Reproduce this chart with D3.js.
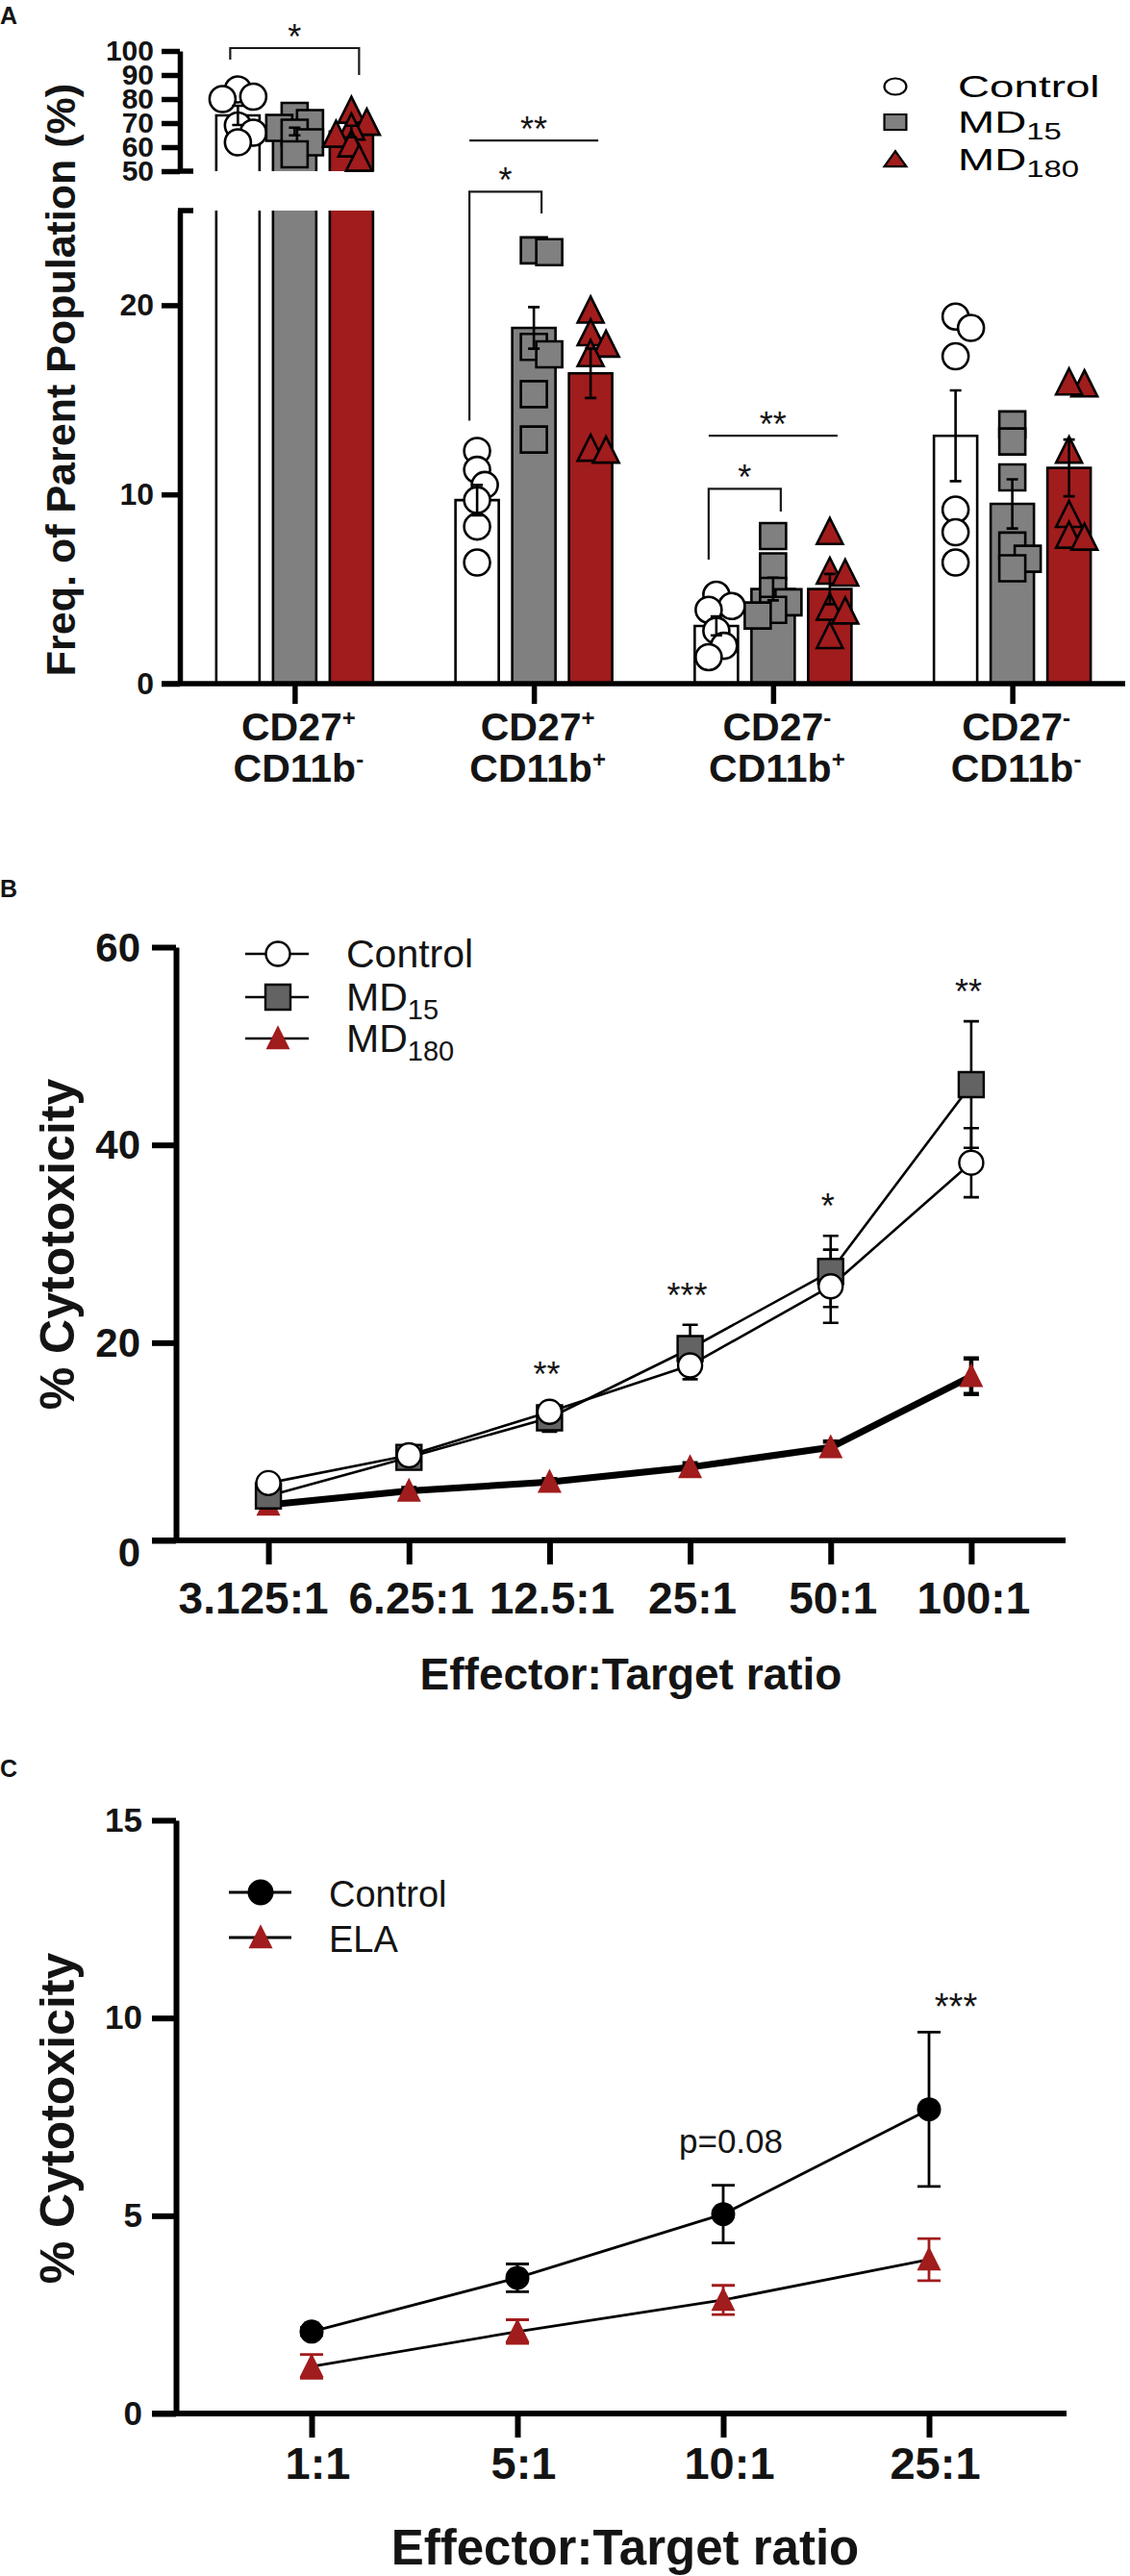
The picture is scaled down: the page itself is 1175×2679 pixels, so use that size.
<!DOCTYPE html>
<html><head><meta charset="utf-8">
<script src="https://cdn.jsdelivr.net/npm/d3@7"></script>
<style>
body{margin:0;background:#fff;}
svg{display:block;font-family:"Liberation Sans",Arial,Helvetica,sans-serif;}
</style></head><body>
<svg id="fig" width="1175" height="2679"></svg>
<script>
// ================= DATA =================
// Panel A
const aCategories   = ["CD27+CD11b-","CD27+CD11b+","CD27-CD11b+","CD27-CD11b-"];
const aCatTop       = ["CD27","CD27","CD27","CD27"];
const aCatTopSup    = ["+","+","-","-"];
const aCatBottom    = ["CD11b","CD11b","CD11b","CD11b"];
const aCatBottomSup = ["-","+","+","-"];
const aGroups       = ["Control","MD15","MD180"];
const aControlMean  = [73.2, 9.7, 3.05, 13.1];
const aMD15Mean     = [66.5, 18.8, 5.0, 9.5];
const aMD180Mean    = [66.5, 16.4, 5.0, 11.4];
const aControlSem   = [4.0, 0.8, 0.5, 2.4];
const aMD15Sem      = [1.6, 1.1, 0.6, 1.3];
const aMD180Sem     = [2.4, 1.3, 0.8, 1.5];
const aControlPts   = [[84,81,80,69,66,62],[12.3,11.3,10.5,9.7,8.3,6.4],[4.7,4.1,3.9,2.8,2.0,1.4],[19.4,18.8,17.3,9.2,8.0,6.4]];
const aMD15Pts      = [[73,70,68,66,62,57],[22.9,22.8,17.8,17.4,15.3,12.9],[7.8,6.2,4.9,4.3,3.9,3.6],[13.7,12.8,10.9,7.3,6.6,6.1]];
const aMD180Pts     = [[75,70,68,65,61,55],[19.7,18.5,17.9,17.4,12.4,12.3],[8.0,5.9,5.8,4.0,3.8,2.5],[15.8,15.9,12.3,8.9,7.8,7.7]];
const aLowTicks     = [0,10,20];
const aHighTicks    = [50,60,70,80,90,100];
// significance (category index, from group, to group, level, left leg end, right leg end, label)
const aSigCat   = [0, 1, 1, 2, 2];
const aSigFrom  = ["Control","Control","Control","Control","Control"];
const aSigTo    = ["MD180","MD15","MD180","MD15","MD180"];
const aSigLevel = [101.2, 26.0, 28.7, 10.3, 13.1];
const aSigLeft  = [96.4, 13.9, null, 6.55, null];
const aSigRight = [90.0, 24.85, null, 9.1, null];
const aSigText  = ["*","*","**","*","**"];

// Panel B
const bRatios     = ["3.125:1","6.25:1","12.5:1","25:1","50:1","100:1"];
const bControl    = [5.8, 8.6, 13.0, 17.7, 25.7, 38.2];
const bControlErr = [0.5, 0.6, 0.8, 1.4, 3.7, 3.5];
const bMD15       = [4.5, 8.4, 12.4, 19.4, 27.2, 46.1];
const bMD15Err    = [0.5, 0.6, 1.4, 2.4, 3.6, 6.4];
const bMD180      = [3.6, 5.0, 5.9, 7.4, 9.4, 16.6];
const bMD180Err   = [0.3, 0.3, 0.3, 0.4, 0.6, 1.8];
const bSig        = ["", "", "**", "***", "*", "**"];
const bTicks      = [0, 20, 40, 60];

// Panel C
const cRatios     = ["1:1","5:1","10:1","25:1"];
const cControl    = [2.07, 3.43, 5.04, 7.69];
const cControlErr = [0.1, 0.35, 0.73, 1.95];
const cELA        = [1.19, 2.07, 2.87, 3.89];
const cELAErr     = [0.3, 0.3, 0.37, 0.53];
const cNote       = ["", "", "p=0.08", "***"];
const cTicks      = [0, 5, 10, 15];

// ================= STYLE =================
const RED = "#a11c1c", GREYA = "#808080", GREYB = "#636363", INK = "#141414";
const svg = d3.select("#fig");

function markerPath(shape, s) {
  if (shape === "square") return `M${-s/2},${-s/2}H${s/2}V${s/2}H${-s/2}Z`;
  if (shape === "triangle") return `M0,${-s*0.55}L${s/2},${s*0.45}L${-s/2},${s*0.45}Z`;
  return d3.symbol(d3.symbolCircle, Math.PI*(s/2)*(s/2))();
}
function styleAxis(g, fontSize, width) {
  g.selectAll("path.domain").attr("stroke", "#000").attr("stroke-width", width);
  g.selectAll(".tick line").attr("stroke", "#000").attr("stroke-width", width);
  g.selectAll(".tick text").attr("fill", INK).attr("font-size", fontSize)
    .attr("font-weight", "bold").attr("font-family", '"Liberation Sans",Arial,sans-serif');
}

// ================= PANEL A =================
(function(){
  const g = svg.append("g");
  const xA = d3.scalePoint().domain(aCategories).range([182, 1177]).padding(0.5);
  const xG = d3.scalePoint().domain(aGroups).range([-59, 59]);
  const yLow = d3.scaleLinear().domain([0, 25]).range([711, 219]);
  const yHigh = d3.scaleLinear().domain([50, 100]).range([178, 53]);
  const yA = v => v > 30 ? yHigh(v) : yLow(v);
  const BW = 45, AX = 187;

  g.append("text").attr("x", 0).attr("y", 25).attr("font-size", 25).attr("font-weight", "bold").attr("fill", INK).text("A");

  const series = [
    {name:"Control", mean:aControlMean, sem:aControlSem, pts:aControlPts, fill:"#fff", shape:"circle"},
    {name:"MD15", mean:aMD15Mean, sem:aMD15Sem, pts:aMD15Pts, fill:GREYA, shape:"square"},
    {name:"MD180", mean:aMD180Mean, sem:aMD180Sem, pts:aMD180Pts, fill:RED, shape:"triangle"}
  ];

  // bars
  series.forEach(s => {
    aCategories.forEach((c, i) => {
      const cx = xA(c) + xG(s.name), x0 = cx - BW/2, m = s.mean[i];
      if (m <= 25) {
        g.append("rect").attr("x", x0).attr("y", yLow(m)).attr("width", BW).attr("height", yLow(0) - yLow(m)).attr("fill", s.fill);
        g.append("path").attr("d", `M${x0},${yLow(0)}V${yLow(m)}H${x0+BW}V${yLow(0)}`).attr("fill","none").attr("stroke","#000").attr("stroke-width",2.6);
      } else {
        g.append("rect").attr("x", x0).attr("y", yLow(25)).attr("width", BW).attr("height", yLow(0) - yLow(25)).attr("fill", s.fill);
        g.append("path").attr("d", `M${x0},${yLow(0)}V${yLow(25)}M${x0+BW},${yLow(25)}V${yLow(0)}`).attr("fill","none").attr("stroke","#000").attr("stroke-width",2.6);
        g.append("rect").attr("x", x0).attr("y", yHigh(m)).attr("width", BW).attr("height", yHigh(50) - yHigh(m)).attr("fill", s.fill);
        g.append("path").attr("d", `M${x0},${yHigh(50)}V${yHigh(m)}H${x0+BW}V${yHigh(50)}`).attr("fill","none").attr("stroke","#000").attr("stroke-width",2.6);
      }
    });
  });

  // points (deterministic dodge)
  function dodge(vals, minD, step) {
    const placed = [], offs = new Array(vals.length);
    const order = vals.map((v, i) => i).sort((a, b) => vals[b] - vals[a]);
    const cands = [0, step, -step, 2*step, -2*step];
    order.forEach((i, k) => {
      const y = yA(vals[i]);
      let c = cands.find(c => placed.every(p => Math.hypot(p.x - c, p.y - y) >= minD));
      if (c === undefined) c = cands[k % cands.length];
      offs[i] = c; placed.push({x: c, y});
    });
    return offs;
  }
  series.forEach(s => {
    aCategories.forEach((c, i) => {
      const cx = xA(c) + xG(s.name);
      const offs = dodge(s.pts[i], 16, 8);
      s.pts[i].forEach((v, j) => {
        g.append("path").attr("d", markerPath(s.shape, 27))
          .attr("transform", `translate(${cx + offs[j]},${yA(v)})`)
          .attr("fill", s.fill).attr("stroke", "#000").attr("stroke-width", 2.6);
      });
    });
  });

  // error bars
  series.forEach(s => {
    aCategories.forEach((c, i) => {
      const cx = xA(c) + xG(s.name), m = s.mean[i], e = s.sem[i];
      const y1 = yA(m + e), y2 = yA(m - e);
      g.append("path").attr("d", `M${cx},${y2}V${y1}M${cx-6},${y1}H${cx+6}M${cx-6},${y2}H${cx+6}`)
        .attr("stroke", "#000").attr("stroke-width", 2.6).attr("fill", "none");
    });
  });

  // axes
  const axLow = g.append("g").attr("transform", `translate(${AX},0)`)
    .call(d3.axisLeft(yLow).tickValues(aLowTicks).tickSize(19).tickSizeOuter(0).tickPadding(8));
  styleAxis(axLow, 32, 5.5);
  const axHigh = g.append("g").attr("transform", `translate(${AX},0)`)
    .call(d3.axisLeft(yHigh).tickValues(aHighTicks).tickSize(19).tickSizeOuter(0).tickPadding(8));
  styleAxis(axHigh, 30, 5.5);
  // break caps
  g.append("line").attr("x1", AX).attr("x2", AX + 14).attr("y1", yHigh(50)).attr("y2", yHigh(50)).attr("stroke", "#000").attr("stroke-width", 5.5);
  g.append("line").attr("x1", AX - 2).attr("x2", AX + 14).attr("y1", yLow(25)).attr("y2", yLow(25)).attr("stroke", "#000").attr("stroke-width", 5.5);
  // x axis line
  g.append("line").attr("x1", AX - 19).attr("x2", 1170).attr("y1", yLow(0)).attr("y2", yLow(0)).attr("stroke", "#000").attr("stroke-width", 5.5);
  const axX = g.append("g").attr("transform", `translate(0,${yLow(0)})`)
    .call(d3.axisBottom(xA).tickSize(21).tickFormat(""));
  axX.select("path.domain").remove();
  axX.selectAll(".tick line").attr("stroke", "#000").attr("stroke-width", 5.5);

  // category labels
  aCategories.forEach((c, i) => {
    const t1 = g.append("text").attr("x", xA(c) + 4).attr("y", yLow(0) + 59).attr("text-anchor", "middle")
      .attr("font-size", 41).attr("font-weight", "bold").attr("fill", INK);
    t1.append("tspan").text(aCatTop[i]);
    t1.append("tspan").attr("font-size", 24).attr("dy", -15).text(aCatTopSup[i]);
    const t2 = g.append("text").attr("x", xA(c) + 4).attr("y", yLow(0) + 102).attr("text-anchor", "middle")
      .attr("font-size", 41).attr("font-weight", "bold").attr("fill", INK);
    t2.append("tspan").text(aCatBottom[i]);
    t2.append("tspan").attr("font-size", 24).attr("dy", -15).text(aCatBottomSup[i]);
  });

  // y label
  g.append("text").attr("transform", `translate(78,395) rotate(-90)`).attr("text-anchor", "middle")
    .attr("font-size", 43).attr("font-weight", "bold").attr("fill", INK).text("Freq. of Parent Population (%)");

  // significance
  aSigCat.forEach((ci, k) => {
    const c = aCategories[ci];
    const x1 = xA(c) + xG(aSigFrom[k]) - 8, x2 = xA(c) + xG(aSigTo[k]) + 8;
    const y = yA(aSigLevel[k]);
    let d = `M${x1},${y}H${x2}`;
    if (aSigLeft[k] !== null) d = `M${x1},${yA(aSigLeft[k])}V${y}H${x2}V${yA(aSigRight[k])}`;
    g.append("path").attr("d", d).attr("fill", "none").attr("stroke", "#1a1a1a").attr("stroke-width", 2.2);
    g.append("text").attr("x", (x1 + x2) / 2).attr("y", y + 1).attr("text-anchor", "middle")
      .attr("font-size", 36).attr("fill", INK).text(aSigText[k]);
  });

  // legend (horizontally stretched like the reference)
  const lg = g.append("g").attr("transform", "translate(931,0) scale(1.43,1)");
  const legY = [90, 127, 166];
  series.forEach((s, k) => {
    const shp = s.shape === "circle"
      ? lg.append("ellipse").attr("cx", 0).attr("cy", legY[k]).attr("rx", 8).attr("ry", 8.5)
      : lg.append("path").attr("d", markerPath(s.shape, 16)).attr("transform", `translate(0,${legY[k]})`);
    shp.attr("fill", s.fill).attr("stroke", "#000").attr("stroke-width", 2.2).attr("vector-effect", "non-scaling-stroke");
    const t = lg.append("text").attr("x", 45.5).attr("y", legY[k] + 11).attr("font-size", 32).attr("fill", "#000");
    if (s.name === "Control") t.text("Control");
    else {
      t.append("tspan").text("MD");
      t.append("tspan").attr("font-size", 23).attr("dy", 7).text(s.name.slice(2));
    }
  });
})();

// ================= PANEL B =================
(function(){
  const g = svg.append("g");
  const AX = 183;
  const xB = d3.scalePoint().domain(bRatios).range([206, 1083]).padding(0.5);
  const yB = d3.scaleLinear().domain([0, 60]).range([1602, 985]);

  g.append("text").attr("x", 0).attr("y", 933).attr("font-size", 25).attr("font-weight", "bold").attr("fill", INK).text("B");

  // axes
  g.append("line").attr("x1", 158).attr("x2", 1108).attr("y1", yB(0)).attr("y2", yB(0)).attr("stroke", "#000").attr("stroke-width", 6);
  const ay = g.append("g").attr("transform", `translate(${AX},0)`)
    .call(d3.axisLeft(yB).tickValues(bTicks).tickSize(25).tickSizeOuter(0).tickPadding(12));
  styleAxis(ay, 42, 6);
  ay.selectAll(".tick text").attr("dy", d => d === 0 ? "0.62em" : "0.34em");
  const ax = g.append("g").attr("transform", `translate(0,${yB(0)})`)
    .call(d3.axisBottom(xB).tickSize(25).tickSizeOuter(0));
  ax.select("path.domain").remove();
  styleAxis(ax, 46, 6);
  ax.selectAll(".tick text").attr("dy", null).attr("y", 76).attr("dx", (d, i) => i === 0 ? -16 : 2);

  g.append("text").attr("x", 656).attr("y", 1757).attr("text-anchor", "middle").attr("font-size", 46)
    .attr("font-weight", "bold").attr("fill", INK).text("Effector:Target ratio");
  g.append("text").attr("transform", "translate(77,1294) rotate(-90)").attr("text-anchor", "middle")
    .attr("font-size", 50).attr("font-weight", "bold").attr("fill", INK).text("% Cytotoxicity");

  const series = [
    {name:"MD180", vals:bMD180, err:bMD180Err, shape:"triangle", fill:RED, stroke:"none", lw:7, ew:4.5},
    {name:"MD15", vals:bMD15, err:bMD15Err, shape:"square", fill:GREYB, stroke:"#000", lw:2.6, ew:2.6},
    {name:"Control", vals:bControl, err:bControlErr, shape:"circle", fill:"#fff", stroke:"#000", lw:2.6, ew:2.6}
  ];
  const line = d3.line().x((d, i) => xB(bRatios[i])).y(d => yB(d));
  series.forEach(s => {
    g.append("path").attr("d", line(s.vals)).attr("fill", "none").attr("stroke", "#000").attr("stroke-width", s.lw).attr("stroke-linejoin", "round");
  });
  series.forEach(s => {
    s.vals.forEach((v, i) => {
      const x = xB(bRatios[i]), y1 = yB(v + s.err[i]), y2 = yB(v - s.err[i]);
      g.append("path").attr("d", `M${x},${y2}V${y1}M${x-8},${y1}H${x+8}M${x-8},${y2}H${x+8}`)
        .attr("stroke", "#000").attr("stroke-width", s.ew).attr("fill", "none");
    });
  });
  series.forEach(s => {
    s.vals.forEach((v, i) => {
      g.append("path").attr("d", markerPath(s.shape, s.shape === "square" ? 26 : 25))
        .attr("transform", `translate(${xB(bRatios[i])},${yB(v)})`)
        .attr("fill", s.fill).attr("stroke", s.stroke).attr("stroke-width", 2.4);
    });
  });
  // significance
  bSig.forEach((t, i) => {
    if (!t) return;
    const top = Math.max(bControl[i] + bControlErr[i], bMD15[i] + bMD15Err[i], bMD180[i] + bMD180Err[i]);
    g.append("text").attr("x", xB(bRatios[i]) - 3).attr("y", yB(top) - 18).attr("text-anchor", "middle")
      .attr("font-size", 36).attr("fill", INK).text(t);
  });
  // legend
  const legY = [992, 1037, 1080];
  const legSeries = [series[2], series[1], series[0]];
  legSeries.forEach((s, k) => {
    g.append("line").attr("x1", 255).attr("x2", 321).attr("y1", legY[k]).attr("y2", legY[k]).attr("stroke", "#000").attr("stroke-width", 2.6);
    g.append("path").attr("d", markerPath(s.shape, s.shape === "square" ? 26 : 25)).attr("transform", `translate(289,${legY[k]})`)
      .attr("fill", s.fill).attr("stroke", s.stroke).attr("stroke-width", 2.4);
    const t = g.append("text").attr("x", 360).attr("y", legY[k] + 14).attr("font-size", 41).attr("fill", INK);
    if (s.name === "Control") t.text("Control");
    else { t.append("tspan").text("MD"); t.append("tspan").attr("font-size", 29).attr("dy", 9).text(s.name.slice(2)); }
  });
})();

// ================= PANEL C =================
(function(){
  const g = svg.append("g");
  const AX = 183;
  const xC = d3.scalePoint().domain(cRatios).range([217, 1073]).padding(0.5);
  const yC = d3.scaleLinear().domain([0, 15]).range([2510, 1893]);

  g.append("text").attr("x", 0).attr("y", 1848).attr("font-size", 25).attr("font-weight", "bold").attr("fill", INK).text("C");

  g.append("line").attr("x1", 158).attr("x2", 1109).attr("y1", yC(0)).attr("y2", yC(0)).attr("stroke", "#000").attr("stroke-width", 6);
  const ay = g.append("g").attr("transform", `translate(${AX},0)`)
    .call(d3.axisLeft(yC).tickValues(cTicks).tickSize(25).tickSizeOuter(0).tickPadding(10));
  styleAxis(ay, 35, 6);
  const ax = g.append("g").attr("transform", `translate(0,${yC(0)})`)
    .call(d3.axisBottom(xC).tickSize(25).tickSizeOuter(0));
  ax.select("path.domain").remove();
  styleAxis(ax, 47, 6);
  ax.selectAll(".tick text").attr("dy", null).attr("y", 68).attr("dx", 6);

  g.append("text").attr("x", 650).attr("y", 2667).attr("text-anchor", "middle").attr("font-size", 51)
    .attr("font-weight", "bold").attr("fill", INK).text("Effector:Target ratio");
  g.append("text").attr("transform", "translate(77,2203) rotate(-90)").attr("text-anchor", "middle")
    .attr("font-size", 50).attr("font-weight", "bold").attr("fill", INK).text("% Cytotoxicity");

  const series = [
    {name:"ELA", vals:cELA, err:cELAErr, shape:"triangle", fill:RED, ec:RED},
    {name:"Control", vals:cControl, err:cControlErr, shape:"circle", fill:"#000", ec:"#000"}
  ];
  const line = d3.line().x((d, i) => xC(cRatios[i])).y(d => yC(d));
  series.forEach(s => {
    g.append("path").attr("d", line(s.vals)).attr("fill", "none").attr("stroke", "#000").attr("stroke-width", 2.8);
  });
  series.forEach(s => {
    s.vals.forEach((v, i) => {
      const x = xC(cRatios[i]), y1 = yC(v + s.err[i]), y2 = yC(v - s.err[i]);
      g.append("path").attr("d", `M${x},${y2}V${y1}M${x-12},${y1}H${x+12}M${x-12},${y2}H${x+12}`)
        .attr("stroke", s.ec).attr("stroke-width", 2.8).attr("fill", "none");
    });
  });
  series.forEach(s => {
    s.vals.forEach((v, i) => {
      g.append("path").attr("d", markerPath(s.shape, 25)).attr("transform", `translate(${xC(cRatios[i])},${yC(v)})`)
        .attr("fill", s.fill);
    });
  });
  cNote.forEach((t, i) => {
    if (!t) return;
    const top = cControl[i] + cControlErr[i];
    const star = t.startsWith("*");
    g.append("text").attr("x", xC(cRatios[i]) + (star ? 28 : 8)).attr("y", yC(top) - (star ? 13 : 34))
      .attr("text-anchor", "middle").attr("font-size", star ? 38 : 35).attr("fill", INK).text(t);
  });
  // legend
  const legY = [1968, 2015];
  [series[1], series[0]].forEach((s, k) => {
    g.append("line").attr("x1", 238).attr("x2", 303).attr("y1", legY[k]).attr("y2", legY[k]).attr("stroke", "#000").attr("stroke-width", 2.8);
    g.append("path").attr("d", markerPath(s.shape, s.shape === "circle" ? 27 : 25)).attr("transform", `translate(271,${legY[k]})`).attr("fill", s.fill);
    g.append("text").attr("x", 342).attr("y", legY[k] + 15).attr("font-size", 38).attr("fill", INK).text(s.name);
  });
})();
</script></body></html>
